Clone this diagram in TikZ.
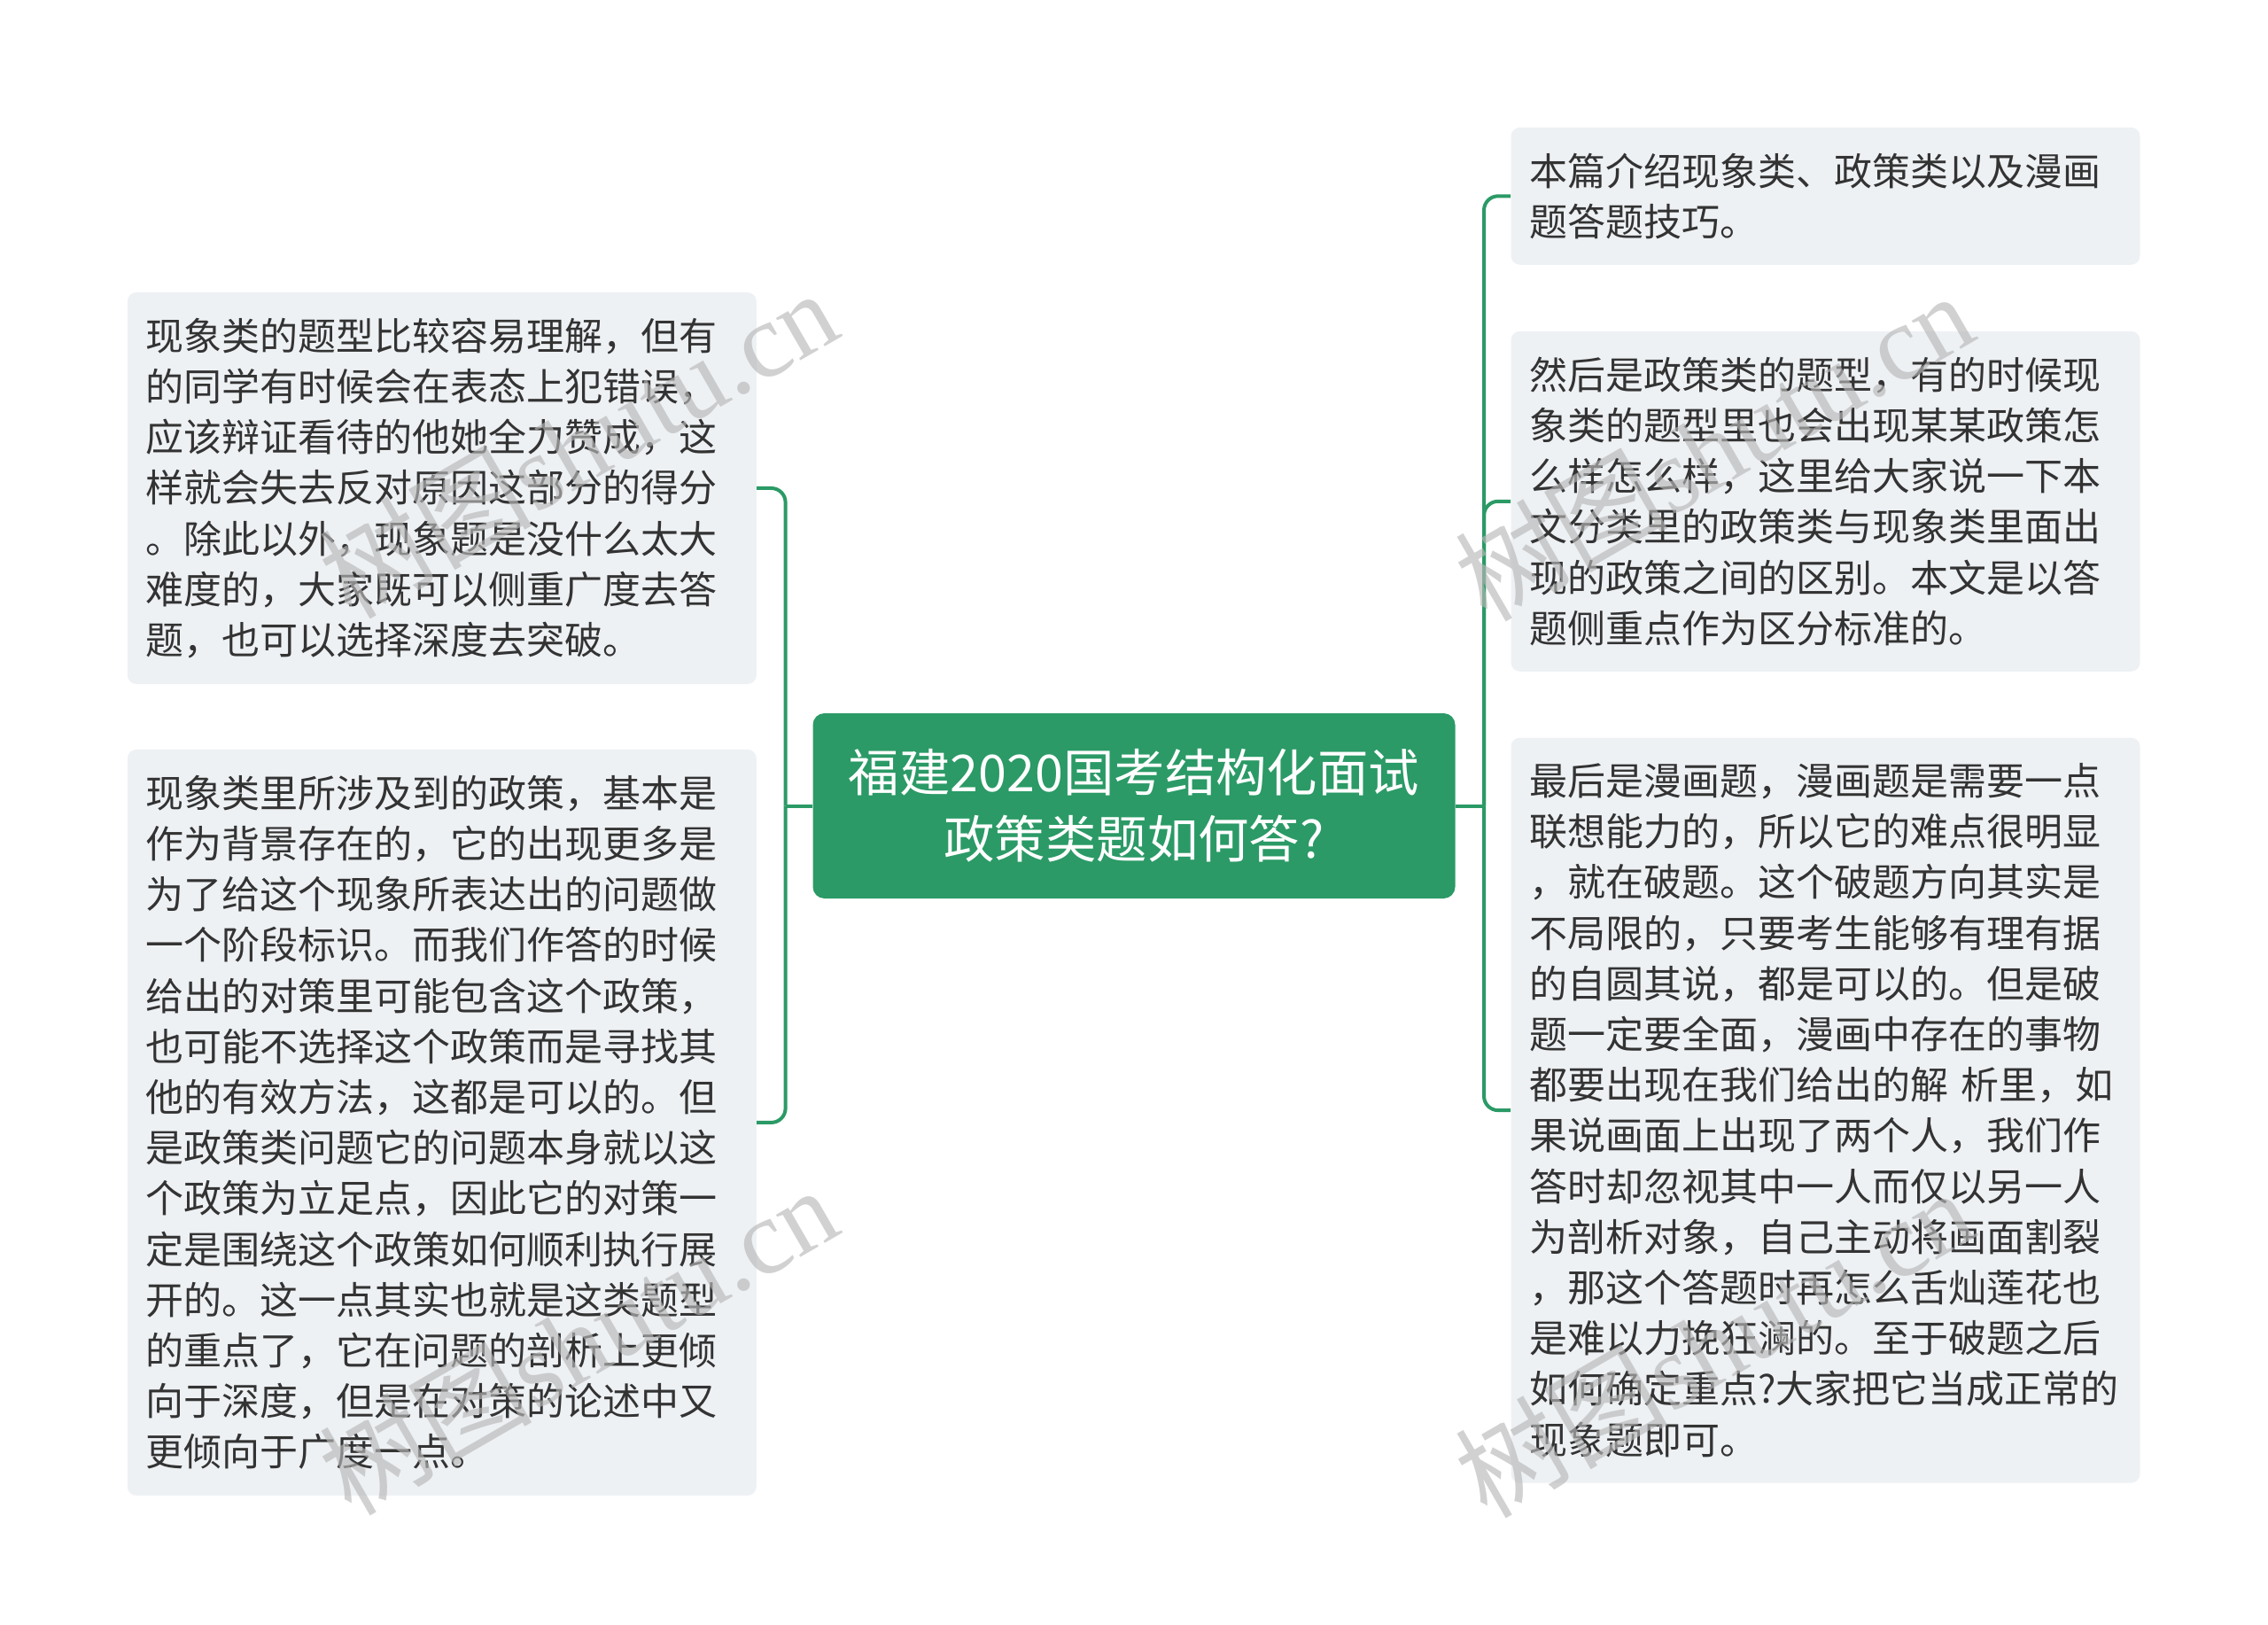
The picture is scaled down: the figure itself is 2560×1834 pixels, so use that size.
\documentclass[tikz,border=0pt]{standalone}
\usepackage{fontspec}
\setmainfont{Noto Sans CJK SC}
\newfontfamily\wmcjk{Noto Sans CJK SC}
\newfontfamily\wmlat{Liberation Serif}
\definecolor{mgreen}{HTML}{2B9A66}
\definecolor{boxfill}{HTML}{EEF1F4}
\definecolor{txt}{HTML}{333333}
\definecolor{wmgray}{HTML}{B8B8B8}
\tikzset{
  textbox/.style={fill=boxfill, rounded corners=5pt, text width=334pt, inner xsep=10.5pt, inner ysep=0pt,
    align=left, font=\fontsize{21.5pt}{28.6pt}\selectfont, text=txt},
  centerbox/.style={fill=mgreen, rounded corners=6.5pt, minimum width=362.5pt, minimum height=104.5pt,
    inner sep=0pt, align=center, text=white, font=\fontsize{28.7pt}{37.5pt}\selectfont},
  conn/.style={draw=mgreen, line width=2pt, rounded corners=8pt},
  wmark/.style={text=wmgray, opacity=0.65, rotate=30, inner sep=0pt, font=\fontsize{60pt}{60pt}\selectfont}
}
\begin{document}
\begin{tikzpicture}[x=0.5pt,y=-0.5pt]
\useasboundingbox (0,0) rectangle (2560,1834);

\node[centerbox] (c) at (1280,909.5) {福建2020国考结构化面试\\政策类题如何答?};

\node[textbox, minimum height=221pt] (lt) at (498.8,551) {现象类的题型比较容易理解，但有\\的同学有时候会在表态上犯错误，\\应该辩证看待的他她全力赞成，这\\样就会失去反对原因这部分的得分\\。除此以外，现象题是没什么太大\\难度的，大家既可以侧重广度去答\\题，也可以选择深度去突破。};

\node[textbox, minimum height=421pt] (lb) at (498.8,1266.9) {现象类里所涉及到的政策，基本是\\作为背景存在的，它的出现更多是\\为了给这个现象所表达出的问题做\\一个阶段标识。而我们作答的时候\\给出的对策里可能包含这个政策，\\也可能不选择这个政策而是寻找其\\他的有效方法，这都是可以的。但\\是政策类问题它的问题本身就以这\\个政策为立足点，因此它的对策一\\定是围绕这个政策如何顺利执行展\\开的。这一点其实也就是这类题型\\的重点了，它在问题的剖析上更倾\\向于深度，但是在对策的论述中又\\更倾向于广度一点。};

\node[textbox, minimum height=77.5pt] (r1) at (2060.5,221.3) {本篇介绍现象类、政策类以及漫画\\题答题技巧。};

\node[textbox, minimum height=192pt] (r2) at (2060.5,565.8) {然后是政策类的题型，有的时候现\\象类的题型里也会出现某某政策怎\\么样怎么样，这里给大家说一下本\\文分类里的政策类与现象类里面出\\现的政策之间的区别。本文是以答\\题侧重点作为区分标准的。};

\node[textbox, minimum height=420.5pt] (r3) at (2060.5,1253.1) {最后是漫画题，漫画题是需要一点\\联想能力的，所以它的难点很明显\\，就在破题。这个破题方向其实是\\不局限的，只要考生能够有理有据\\的自圆其说，都是可以的。但是破\\题一定要全面，漫画中存在的事物\\都要出现在我们给出的解 析里，如\\果说画面上出现了两个人，我们作\\答时却忽视其中一人而仅以另一人\\为剖析对象，自己主动将画面割裂\\，那这个答题时再怎么舌灿莲花也\\是难以力挽狂澜的。至于破题之后\\如何确定重点?大家把它当成正常的\\现象题即可。};

\coordinate (jL) at (886.6,909.5);
\coordinate (jR) at (1675,909.5);
\draw[conn] (c.west) -- (jL);
\draw[conn] (jL) |- (lt.east);
\draw[conn] (jL) |- (lb.east);
\draw[conn] (c.east) -- (jR);
\draw[conn] (jR) |- (r1.west);
\draw[conn] (jR) |- (r2.west);
\draw[conn] (jR) |- (r3.west);

\node[wmark] (w1) at (652,500) {{\wmcjk 树图}{\wmlat shutu.cn}};
\node[wmark] (w2) at (652,1512) {{\wmcjk 树图}{\wmlat shutu.cn}};
\node[wmark] (w3) at (1934,503) {{\wmcjk 树图}{\wmlat shutu.cn}};
\node[wmark] (w4) at (1934,1515) {{\wmcjk 树图}{\wmlat shutu.cn}};
\end{tikzpicture}
\end{document}
